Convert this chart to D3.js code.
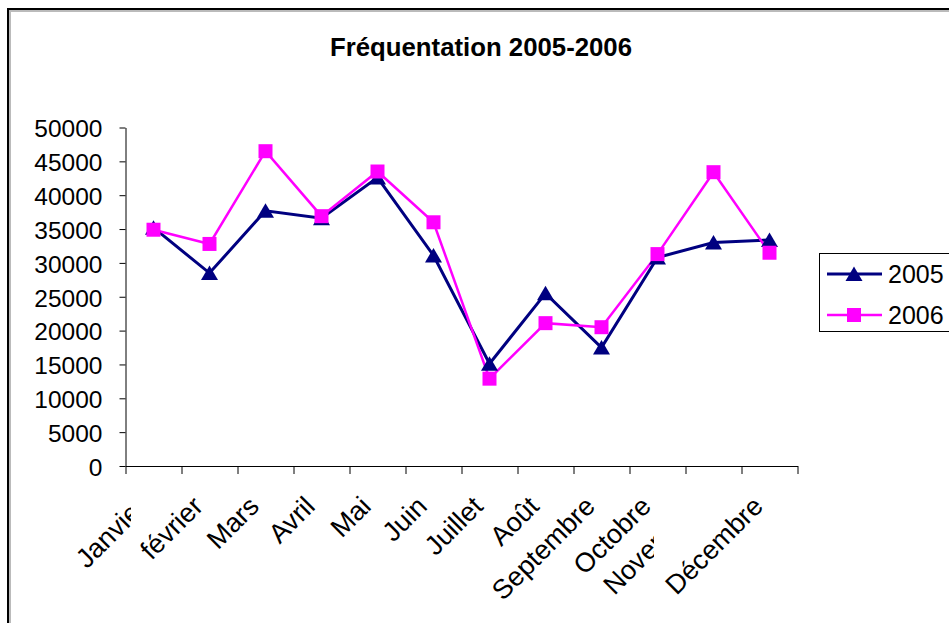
<!DOCTYPE html>
<html><head><meta charset="utf-8">
<script src="https://cdn.jsdelivr.net/npm/d3@7/dist/d3.min.js"></script>
<style>
body{margin:0;background:#fff}
svg{display:block}
text{font-family:"Liberation Sans",Arial,Helvetica,sans-serif;fill:#000}
</style>
</head><body>
<svg id="chart" width="949" height="623"></svg>
<script>
// ---- data ----
const title = "Fréquentation 2005-2006";
const months = ["Janvier","février","Mars","Avril","Mai","Juin","Juillet","Août","Septembre","Octobre","Novembre","Décembre"];
const values2005 = [35200,28500,37700,36600,42600,31100,15100,25500,17500,30800,33000,33400];
const values2006 = [34900,32800,46500,36900,43500,36000,12900,21100,20500,31300,43400,31500];
const seriesNames = ["2005","2006"];
const yTicks = [0,5000,10000,15000,20000,25000,30000,35000,40000,45000,50000];

// ---- styles ----
const colors = {"2005":"#000080","2006":"#FF00FF"};
const lineW = {"2005":3,"2006":2.5};
const series = [
  {name:seriesNames[0], values:values2005},
  {name:seriesNames[1], values:values2006}
];

const svg = d3.select("#chart");
const L = 125.5, R = 797.5, T = 127.5, B = 466;

// outer frame
svg.append("rect").attr("x",10).attr("y",11).attr("width",960).attr("height",640)
  .attr("fill","none").attr("stroke","#bbb").attr("stroke-width",2);
svg.append("rect").attr("x",8).attr("y",9).attr("width",960).attr("height",640)
  .attr("fill","none").attr("stroke","#000").attr("stroke-width",2);

// title
svg.append("text").attr("x",481).attr("y",56).attr("text-anchor","middle")
  .attr("font-size",26).attr("font-weight","bold").attr("textLength",302)
  .attr("lengthAdjust","spacingAndGlyphs").text(title);

const x = d3.scaleBand().domain(months).range([L,R]);
const xEdge = d3.scaleLinear().domain([0,months.length]).range([L,R]);
const y = d3.scaleLinear().domain([0,50000]).range([B,T]);
const cx = m => x(m) + x.bandwidth()/2;

// y axis
const gy = svg.append("g").attr("transform",`translate(${L},0)`)
  .call(d3.axisLeft(y).tickValues(yTicks).tickSize(6).tickSizeOuter(0).tickFormat(d3.format("d")));
gy.select(".domain").attr("stroke","#000");
gy.selectAll(".tick line").attr("stroke","#000");
gy.selectAll(".tick text").attr("x",-23).attr("dy","0.38em")
  .attr("font-size",24.5).attr("font-family",null).attr("fill","#000");

// x axis
const gx = svg.append("g").attr("transform",`translate(0,${B})`)
  .call(d3.axisBottom(xEdge).tickValues(d3.range(months.length+1)).tickSize(8).tickSizeOuter(0).tickFormat(""));
gx.select(".domain").attr("stroke","#000");
gx.selectAll(".tick line").attr("stroke","#000");

// x labels (rotated, some clipped as in original)
const defs = svg.append("defs");
const clipRight = {"Janvier":131, "Novembre":654};
const labelShift = {"Novembre":-6, "Janvier":0};
Object.entries(clipRight).forEach(([k,v],i)=>{
  defs.append("clipPath").attr("id","clip"+i).append("rect")
    .attr("x",0).attr("y",0).attr("width",v).attr("height",623);
});
const clipIds = Object.keys(clipRight);
const lab = svg.append("g");
months.forEach(m=>{
  const g = lab.append("g");
  const ci = clipIds.indexOf(m);
  if (ci>=0) g.attr("clip-path",`url(#clip${ci})`);
  const px = cx(m) - 5 + (labelShift[m]||0), py = 508;
  g.append("text").attr("text-anchor","end").attr("font-size",27)
    .attr("transform",`translate(${px},${py}) rotate(-45)`)
    .text(m);
});

// lines
const line = d3.line().x((d,i)=>cx(months[i])).y(d=>y(d));
series.forEach(s=>{
  svg.append("path").datum(s.values).attr("d",line).attr("fill","none")
    .attr("stroke",colors[s.name]).attr("stroke-width",lineW[s.name]).attr("stroke-linejoin","miter");
});
// markers
const tri = "M0,-7.5L8.5,7L-8.5,7Z";
const sq = "M-7,-7H7V7H-7Z";
series.forEach((s,si)=>{
  svg.append("g").selectAll("path").data(s.values).join("path")
    .attr("d", si===0?tri:sq)
    .attr("transform",(d,i)=>`translate(${cx(months[i])},${y(d)})`)
    .attr("fill",colors[s.name]);
});

// legend
const lg = svg.append("g");
lg.append("rect").attr("x",819.5).attr("y",253.5).attr("width",150).attr("height",78)
  .attr("fill","#fff").attr("stroke","#000").attr("stroke-width",1);
series.forEach((s,i)=>{
  const yy = 274 + i*41;
  lg.append("line").attr("x1",827).attr("x2",882).attr("y1",yy).attr("y2",yy)
    .attr("stroke",colors[s.name]).attr("stroke-width",lineW[s.name]);
  lg.append("path").attr("d", i===0?tri:sq).attr("transform",`translate(854,${yy})`)
    .attr("fill",colors[s.name]);
  lg.append("text").attr("x",888).attr("y",yy).attr("font-size",25).attr("dy","0.36em").text(s.name);
});
</script>
</body></html>
